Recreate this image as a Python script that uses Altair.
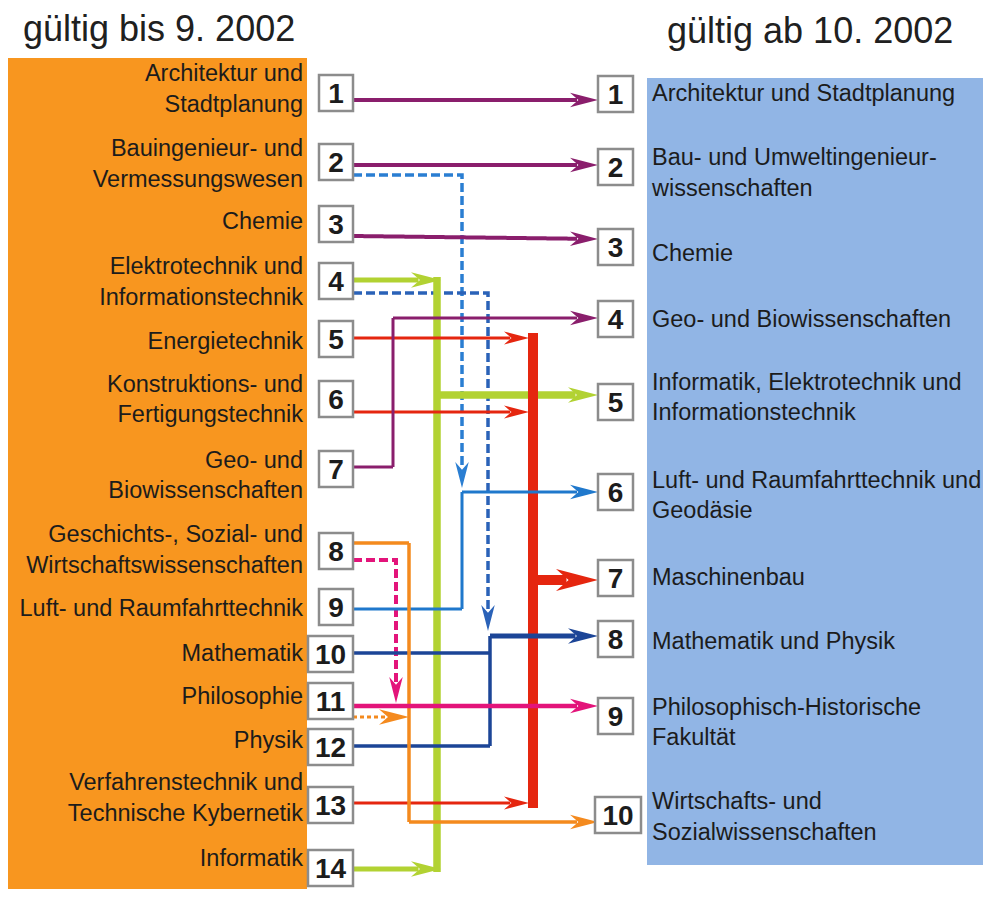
import math
import altair as alt
import pandas as pd

FONT = "Liberation Sans"
INK = "#1c1c1c"

# ---------------- content ----------------
title_left = "gültig bis 9. 2002"
title_right = "gültig ab 10. 2002"

left_numbers = list(range(1, 15))
left_labels = [
    "Architektur und\nStadtplanung",
    "Bauingenieur- und\nVermessungswesen",
    "Chemie",
    "Elektrotechnik und\nInformationstechnik",
    "Energietechnik",
    "Konstruktions- und\nFertigungstechnik",
    "Geo- und\nBiowissenschaften",
    "Geschichts-, Sozial- und\nWirtschaftswissenschaften",
    "Luft- und Raumfahrttechnik",
    "Mathematik",
    "Philosophie",
    "Physik",
    "Verfahrenstechnik und\nTechnische Kybernetik",
    "Informatik",
]

right_numbers = list(range(1, 11))
right_labels = [
    "Architektur und Stadtplanung",
    "Bau- und Umweltingenieur-\nwissenschaften",
    "Chemie",
    "Geo- und Biowissenschaften",
    "Informatik, Elektrotechnik und\nInformationstechnik",
    "Luft- und Raumfahrttechnik und\nGeodäsie",
    "Maschinenbau",
    "Mathematik und Physik",
    "Philosophisch-Historische\nFakultät",
    "Wirtschafts- und\nSozialwissenschaften",
]

# ---------------- diagram layout (reference pixel coordinates) ----------------
left_label_y = [88, 163, 220, 281, 340, 398.5, 474.5, 549, 607, 652, 695, 739, 797, 857]
left_box_y = [93, 162, 224, 281, 339, 399, 469, 551, 607, 654, 701, 747, 805, 868]
right_label_y = [92, 172, 252, 318, 396.5, 494.5, 576, 640, 721.5, 816]
right_box_y = [94, 167, 247, 319, 402, 492, 578, 639, 716, 815]

# connection routes: (style kind, waypoints, arrowhead at the end)
routes = [
    ("purple",     [(353, 100), (598, 100)], True),
    ("purple",     [(353, 165), (598, 165)], True),
    ("purple",     [(353, 236), (598, 239)], True),
    ("purple_thin", [(353, 467), (393, 467), (393, 318), (598, 318)], True),
    ("blue_dash",  [(353, 175), (462, 175), (462, 488)], True),
    ("navy_dash",  [(353, 293), (488, 293), (488, 631)], True),
    ("blue",       [(353, 609), (462, 609), (462, 492), (598, 492)], True),
    ("navy",       [(353, 653), (490, 653)], False),
    ("navy",       [(353, 746), (490, 746), (490, 636)], False),
    ("navy_bold",  [(490, 636), (598, 636)], True),
    ("green_trunk", [(437, 277), (437, 872)], False),
    ("green",      [(353, 280), (441, 280)], True),
    ("green",      [(353, 869), (441, 869)], True),
    ("green_bold", [(437, 395), (598, 395)], True),
    ("red_trunk",  [(533, 333), (533, 808)], False),
    ("red",        [(353, 338), (529, 338)], True),
    ("red",        [(353, 412), (529, 412)], True),
    ("red",        [(353, 803), (529, 803)], True),
    ("red_big",    [(533, 580), (598, 580)], True),
    ("orange",     [(353, 543), (409, 543), (409, 822), (598, 822)], True),
    ("orange_dot", [(353, 717), (409, 717)], True),
    ("pink_dash",  [(353, 560), (396, 560), (396, 703)], True),
    ("pink",       [(353, 706), (598, 706)], True),
]

# z: drawing level (0 dashed, 1 green, 2 red, 3 others)
STYLE = {
    "purple":      dict(color="#8a1e6c", w=4.0, unit=14, dash="solid", z=3),
    "purple_thin": dict(color="#8a1e6c", w=3.0, unit=14, dash="solid", z=3),
    "blue_dash":   dict(color="#2a7ed2", w=3.5, unit=13, dash="dashed", z=0),
    "navy_dash":   dict(color="#2a62b8", w=3.5, unit=13, dash="dashed", z=0),
    "blue":        dict(color="#1f78cc", w=3.0, unit=14, dash="solid", z=3),
    "navy":        dict(color="#1c4597", w=3.5, unit=14, dash="solid", z=3),
    "navy_bold":   dict(color="#1c4597", w=5.0, unit=15, dash="solid", z=3),
    "green_trunk": dict(color="#b2d232", w=7.5, unit=15, dash="solid", z=1),
    "green":       dict(color="#b2d232", w=5.0, unit=15, dash="solid", z=1),
    "green_bold":  dict(color="#b2d232", w=7.5, unit=15, dash="solid", z=1),
    "red_trunk":   dict(color="#e5260f", w=10.0, unit=21, dash="solid", z=2),
    "red":         dict(color="#e5260f", w=3.0, unit=12.5, dash="solid", z=2),
    "red_big":     dict(color="#e5260f", w=10.0, unit=21, dash="solid", z=2),
    "orange":      dict(color="#f48a1e", w=3.5, unit=14, dash="solid", z=3),
    "orange_dot":  dict(color="#f48a1e", w=3.0, unit=15, dash="dotted", z=0),
    "pink_dash":   dict(color="#e3147a", w=4.0, unit=13, dash="dashed", z=0),
    "pink":        dict(color="#e3147a", w=4.5, unit=14, dash="solid", z=3),
}

ARROW = "M0,0 L-2,-0.52 L-1.4,0 L-2,0.52 Z"

# ---------------- build tables ----------------
seg_rows, head_rows = [], []
for pid, (kind, pts, arrow) in enumerate(routes):
    st = STYLE[kind]
    pts = list(pts)
    if arrow:
        (x0, y0), (x1, y1) = pts[-2], pts[-1]
        dx, dy = x1 - x0, y1 - y0
        L = math.hypot(dx, dy)
        ux, uy = dx / L, dy / L
        u = st["unit"]
        head_rows.append(dict(x=x1, y=y1, angle=math.degrees(math.atan2(uy, ux)) % 360,
                              size=(2 * u) ** 2, color=st["color"], z=st["z"]))
        pts[-1] = (x1 - ux * u * 1.5, y1 - uy * u * 1.5)
    for i, (x, y) in enumerate(pts):
        seg_rows.append(dict(pid=pid, i=i, x=x, y=y, color=st["color"], w=st["w"],
                             dash=st["dash"], z=st["z"]))
        if st["dash"] != "solid":
            # white halo beneath dashed / dotted routes
            seg_rows.append(dict(pid=1000 + pid, i=i, x=x, y=y, color="#ffffff", w=st["w"] + 2.5,
                                 dash="solid", z=-1))
seg_df = pd.DataFrame(seg_rows)
head_df = pd.DataFrame(head_rows)

LINE_GAP = 30.5
text_rows = []
for lab, cy in zip(left_labels, left_label_y):
    parts = lab.split("\n")
    for j, t in enumerate(parts):
        text_rows.append(dict(side="L", x=303, y=cy + (j - (len(parts) - 1) / 2) * LINE_GAP, t=t))
for lab, cy in zip(right_labels, right_label_y):
    parts = lab.split("\n")
    for j, t in enumerate(parts):
        text_rows.append(dict(side="R", x=652, y=cy + (j - (len(parts) - 1) / 2) * LINE_GAP, t=t))
text_df = pd.DataFrame(text_rows)

box_rows = []
for n, cy in zip(left_numbers, left_box_y):
    wide = n >= 10
    box_rows.append(dict(n=str(n), x0=308 if wide else 319, x1=353, y0=cy - 18, y1=cy + 18))
for n, cy in zip(right_numbers, right_box_y):
    wide = n >= 10
    box_rows.append(dict(n=str(n), x0=595 if wide else 598, x1=641 if wide else 633, y0=cy - 18, y1=cy + 18))
box_df = pd.DataFrame(box_rows)
box_df["cx"] = (box_df.x0 + box_df.x1) / 2
box_df["cy"] = (box_df.y0 + box_df.y1) / 2

panel_df = pd.DataFrame([
    dict(x0=8, x1=307, y0=58, y1=897, fill="#f8961f"),
    dict(x0=647, x1=991, y0=78, y1=865, fill="#91b5e5"),
])
title_df = pd.DataFrame([
    dict(x=23, y=41, t=title_left),
    dict(x=667, y=43, t=title_right),
])

# ---------------- scales ----------------
xs = alt.Scale(domain=[8, 983], nice=False, zero=False)
ys = alt.Scale(domain=[8, 889], nice=False, zero=False, reverse=True)


def X(f):
    return alt.X(f, type="quantitative", scale=xs, axis=None)


def Y(f):
    return alt.Y(f, type="quantitative", scale=ys, axis=None)


panels = alt.Chart(panel_df).mark_rect().encode(
    x=X("x0"), x2="x1", y=Y("y0"), y2="y1", fill=alt.Fill("fill:N", scale=None)
)

DASH_SCALE = alt.Scale(domain=["solid", "dashed", "dotted"], range=[[1, 0], [9, 4], [4, 3]])


def line_layer(z):
    return alt.Chart(seg_df).transform_filter(alt.datum.z == z).mark_line(
        strokeJoin="miter", strokeCap="butt"
    ).encode(
        x=X("x"), y=Y("y"),
        color=alt.Color("color:N", scale=None),
        strokeWidth=alt.StrokeWidth("w:Q", scale=None),
        strokeDash=alt.StrokeDash("dash:N", scale=DASH_SCALE, legend=None),
        detail="pid:N",
        order="i:Q",
    )


def head_layer(z):
    return alt.Chart(head_df).transform_filter(alt.datum.z == z).mark_point(
        shape=ARROW, filled=True, opacity=1, strokeWidth=0
    ).encode(
        x=X("x"), y=Y("y"),
        angle=alt.Angle("angle:Q", scale=None),
        size=alt.Size("size:Q", scale=None),
        color=alt.Color("color:N", scale=None),
    )


route_layers = [line_layer(-1)]
for z in [0, 1, 2, 3]:
    route_layers += [line_layer(z), head_layer(z)]

box_shadow = alt.Chart(box_df).mark_rect(fill="#ffffff", stroke="#c8c8c8", strokeWidth=1.5,
                                         xOffset=1.5, yOffset=1.5).encode(
    x=X("x0"), x2="x1", y=Y("y0"), y2="y1"
)
boxes = alt.Chart(box_df).mark_rect(fill="#ffffff", stroke="#8c8c8c", strokeWidth=2.5).encode(
    x=X("x0"), x2="x1", y=Y("y0"), y2="y1"
)
box_nums = alt.Chart(box_df).mark_text(font=FONT, fontWeight="bold", fontSize=28, color=INK,
                                       align="center", baseline="alphabetic", dy=10).encode(
    x=X("cx"), y=Y("cy"), text="n:N"
)

left_text = alt.Chart(text_df).transform_filter(alt.datum.side == "L").mark_text(
    font=FONT, fontSize=23.5, color=INK, align="right", baseline="alphabetic", dy=8.5
).encode(x=X("x"), y=Y("y"), text="t:N")
right_text = alt.Chart(text_df).transform_filter(alt.datum.side == "R").mark_text(
    font=FONT, fontSize=23.5, color=INK, align="left", baseline="alphabetic", dy=8.5
).encode(x=X("x"), y=Y("y"), text="t:N")

titles = alt.Chart(title_df).mark_text(font=FONT, fontSize=36, color="#202020",
                                       align="left", baseline="alphabetic").encode(
    x=X("x"), y=Y("y"), text="t:N"
)

chart = alt.layer(
    panels, *route_layers, box_shadow, boxes, box_nums, left_text, right_text, titles
).properties(
    width=975, height=881, autosize="none", padding=0, background="#ffffff"
).configure_view(stroke=None)

chart.save("out.html", embed_options={"renderer": "svg", "actions": False})
